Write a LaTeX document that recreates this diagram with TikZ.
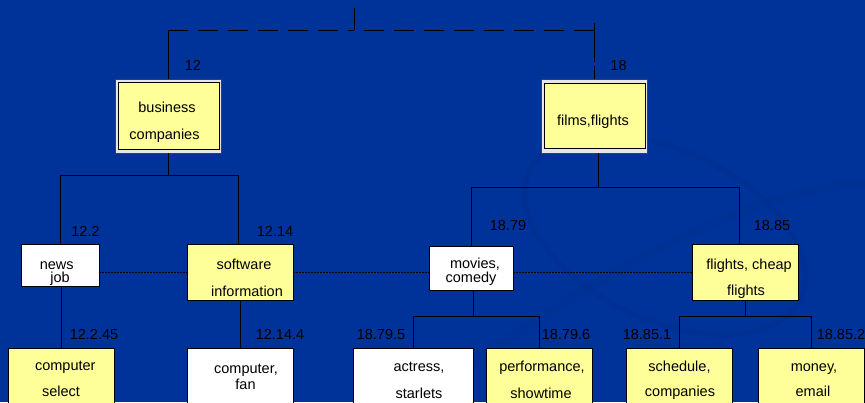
\documentclass[tikz,border=0pt]{standalone}
\usepackage{fontspec}
\setmainfont{Liberation Sans}
\usetikzlibrary{fit}
\definecolor{slidebg}{HTML}{003399}
\definecolor{noteyellow}{HTML}{FFFF99}
\definecolor{framegray}{HTML}{E6E6E6}
\definecolor{swirl}{HTML}{002C8A}
\tikzset{
  every node/.style={font=\fontsize{14.5}{16}\selectfont},
  box/.style={draw=black, line width=0.8pt, inner sep=0pt},
  ybox/.style={box, fill=noteyellow},
  wbox/.style={box, fill=white},
  framebox/.style={draw=black!75, fill=framegray, line width=0.8pt, inner sep=0pt},
  txt/.style={anchor=base, inner sep=0pt, text=black},
  tree/.style={draw=black, line width=0.8pt},
  linkdash/.style={tree, dash pattern=on 20pt off 10pt},
  peer/.style={draw=black, line width=0.7pt, dash pattern=on 2pt off 1pt},
}
\begin{document}
\begin{tikzpicture}[x=1pt,y=-1pt]
\fill[slidebg] (0,0) rectangle (865,402);
\useasboundingbox (0,0) rectangle (865,402);
\begin{scope}
\clip (0,0) rectangle (865,402);
% faint template swirl
\draw[swirl, line width=6pt, opacity=0.3, rotate around={-25:(665,235)}] (665,235) ellipse (150 and 85);
\draw[swirl, line width=9pt, opacity=0.25] (420,400) .. controls (560,300) and (720,195) .. (865,182);

% top level
\node[framebox, fit={(115,79) (221,153)}] (n12f) {};
\node[ybox, fit={(118,82) (219,149)}] (n12) {};
\node[framebox, fit={(541,79) (647,153)}] (n18f) {};
\node[ybox, fit={(544,83) (645,148)}] (n18) {};

% second level
\node[wbox, fit={(21,244) (99,286)}] (news) {};
\node[ybox, fit={(187,244) (293,300)}] (soft) {};
\node[wbox, fit={(429,246) (513,290)}] (mov) {};
\node[ybox, fit={(692,244) (798,300)}] (fl) {};

% third level
\node[ybox, fit={(8,348) (114,412)}] (cs) {};
\node[wbox, fit={(187,348) (293,412)}] (cf) {};
\node[wbox, fit={(353,348) (473,412)}] (act) {};
\node[ybox, fit={(486,348) (592,412)}] (perf) {};
\node[ybox, fit={(626,348) (732,412)}] (sch) {};
\node[ybox, fit={(758,348) (864,412)}] (mon) {};

% connectors from the root
\coordinate (root) at (354,8);
\coordinate (rootj) at (354,30);
\coordinate (lc) at (168,30);
\coordinate (rc) at (594,30);
\coordinate (rtop) at (594,23);
\draw[tree] (root) -- (rootj);
\draw[tree] (n12f.north) -- (lc);
\draw[linkdash] (lc) -- (rootj);
\draw[linkdash] (rc) -- (rootj);
\draw[tree, dash pattern=on 13pt off 4pt on 60pt off 0pt] (n18f.north) -- (rtop);

% tree branches
\draw[tree] (n12f.south) -- ++(0,22) coordinate (b12);
\draw[tree] (news.north) |- (b12) -| ([xshift=-2pt]soft.north);
\draw[tree] ([xshift=4pt]n18f.south) -- ++(0,34) coordinate (b18);
\draw[tree] (mov.north) |- (b18) -| ([xshift=-6pt]fl.north);
\draw[tree] (news.south -| cs.north) -- (cs.north);
\draw[tree] (soft.south) -- (cf.north);
\draw[tree] ([xshift=2pt]mov.south) -- ++(0,26) coordinate (b79);
\draw[tree] (act.north) |- (b79) -| (perf.north);
\draw[tree] (fl.south) -- ++(0,16) coordinate (b85);
\draw[tree] (sch.north) |- (b85) -| (mon.north);

% peer links
\draw[peer] (news.east |- soft.west) -- (soft.west);
\draw[peer] (soft.east) -- (mov.west |- soft.east);
\draw[peer] (mov.east |- soft.east) -- (fl.west);

% numbers
\node[txt] (l12) at (193,70.5) {12};
\node[txt] (l18) at (618.5,70.5) {18};
\node[txt] (l122) at (85.5,236) {12.2};
\node[txt] (l1214) at (275,236) {12.14};
\node[txt] (l1879) at (508,230) {18.79};
\node[txt] (l1885) at (772,230) {18.85};
\node[txt] (l12245) at (94,339) {12.2.45};
\node[txt] (l12144) at (280,339) {12.14.4};
\node[txt] (l18795) at (381,339) {18.79.5};
\node[txt] (l18796) at (566,339) {18.79.6};
\node[txt] (l18851) at (647,339) {18.85.1};
\node[txt] (l18852) at (841,339) {18.85.2};

% box texts
\node[txt] (t12a) at (167,112) {business};
\node[txt] (t12b) at (164.5,139) {companies};
\node[txt] (t18) at (593,125.5) {films,flights};
\node[txt] (tnewsa) at (56.7,269) {news};
\node[txt] (tnewsb) at (60,282) {job};
\node[txt] (tsofta) at (244,269) {software};
\node[txt] (tsoftb) at (247,296) {information};
\node[txt] (tmova) at (475,268) {movies,};
\node[txt] (tmovb) at (471,282.5) {comedy};
\node[txt] (tfla) at (749,269) {flights, cheap};
\node[txt] (tflb) at (746,295.5) {flights};
\node[txt] (tcsa) at (65.3,370.7) {computer};
\node[txt] (tcsb) at (61,396) {select};
\node[txt] (tcfa) at (246,373) {computer,};
\node[txt] (tcfb) at (245.5,389) {fan};
\node[txt] (tacta) at (419,371) {actress,};
\node[txt] (tactb) at (419,398) {starlets};
\node[txt] (tperfa) at (542,371) {performance,};
\node[txt] (tperfb) at (541,398) {showtime};
\node[txt] (tscha) at (679.5,371.5) {schedule,};
\node[txt] (tschb) at (680,396.5) {companies};
\node[txt] (tmona) at (814,371.5) {money,};
\node[txt] (tmonb) at (813,396.5) {email};
\end{scope}
\end{tikzpicture}
\end{document}
